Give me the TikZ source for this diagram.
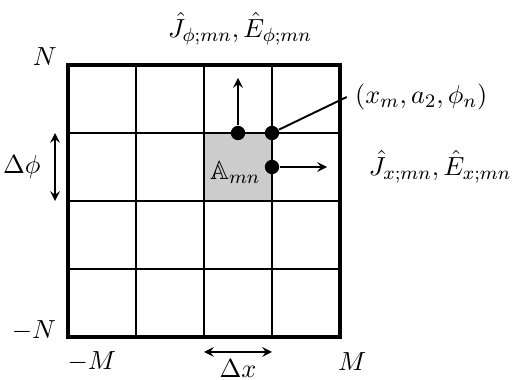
\documentclass[tikz,border=0pt]{standalone}
\usepackage{amssymb}
\begin{document}
\begin{tikzpicture}[>=stealth, font=\fontsize{11}{13}\selectfont,
  dot/.style={circle, fill, inner sep=0pt, minimum size=6pt}]
  \useasboundingbox (-1,-0.632) rectangle (6.559,4.956);
  % cell and grid
  \fill[gray!40] (2,2) rectangle (3,3);
  \draw[line width=0.6pt] (0,0) grid (4,4);
  \draw[line width=1.7pt] (0,0) rectangle (4,4);
  \draw[line width=1.2pt] (2,2) rectangle (3,3);
  \node at (2.46,2.42) {$\mathbb{A}_{mn}$};
  % sample points
  \node[dot] (top)    at (2.5,3) {};
  \node[dot] (corner) at (3,3)   {};
  \node[dot] (side)   at (3,2.5) {};
  \coordinate (up)    at (2.5,3.81);
  \coordinate (right) at (3.81,2.5);
  \draw[->, thick] (top) -- (up);
  \draw[->, thick] (side) -- (right);
  \node[right] (pos) at (4.1,3.53) {$(x_m, a_2, \phi_n)$};
  \draw[thick] (corner) -- (pos.west);
  \node (Jphi) at (2.53,4.53) {$\hat{J}_{\phi;mn}, \hat{E}_{\phi;mn}$};
  \node[right] (Jx) at (4.3,2.5) {$\hat{J}_{x;mn}, \hat{E}_{x;mn}$};
  % limits
  \node at (-0.34,4.12) {$N$};
  \node at (-0.5,0.1)   {$-N$};
  \node at (0.35,-0.36) {$-M$};
  \node at (4.18,-0.36) {$M$};
  % spacings
  \coordinate (x0) at (2,-0.22);
  \coordinate (x1) at (3,-0.22);
  \draw[<->, thick] (x0) -- (x1);
  \node at (2.5,-0.47) {$\Delta x$};
  \coordinate (p0) at (-0.19,2);
  \coordinate (p1) at (-0.19,3);
  \draw[<->, thick] (p0) -- (p1);
  \node at (-0.68,2.5) {$\Delta\phi$};
\end{tikzpicture}
\end{document}
